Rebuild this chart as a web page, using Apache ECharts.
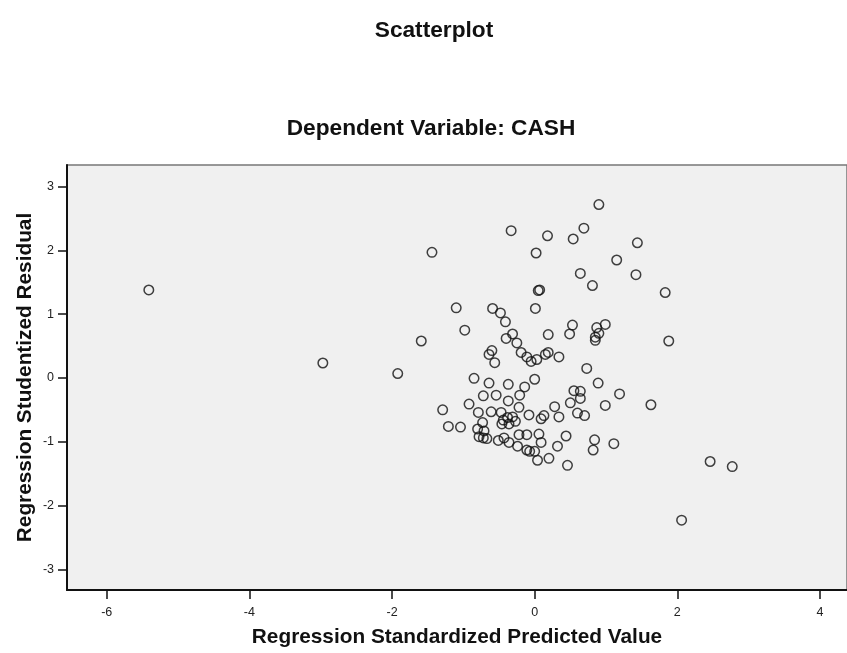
<!DOCTYPE html>
<html>
<head>
<meta charset="utf-8">
<script src="https://cdn.jsdelivr.net/npm/echarts@6/dist/echarts.min.js"></script>
<style>
  html, body { margin: 0; padding: 0; background: #fff; }
  #chart { width: 847px; height: 653px; }
</style>
</head>
<body>
<div id="chart"></div>
<script>
// regression standardized predicted value (x) / studentized residual (y)
const predicted = [
  -5.41, -2.97, -1.92, -1.44, -1.59, -1.10, -0.98, -1.29, -1.21, -1.04,
  -0.92, -0.85, -0.64, -0.37, -0.14, 0.00, 0.89, -0.72, -0.54, -0.21,
  -0.37, 0.55, 0.64, 0.64, 0.50, 1.19, 0.99, 1.63, -0.79, -0.61,
  -0.47, -0.22, -0.08, 0.28, 0.34, 0.09, 0.13, 0.60, 0.70, -0.44,
  -0.38, -0.31, -0.46, -0.36, -0.27, -0.73, -0.80, -0.71, -0.78, -0.72,
  -0.67, -0.51, -0.43, -0.36, -0.22, -0.11, 0.06, 0.09, -0.24, -0.11,
  -0.07, 0.00, 0.04, 0.20, 0.32, 0.44, 0.46, 0.84, 0.82, 1.11,
  2.46, 2.77, 2.06,
  0.90, -0.33, 0.18, 0.69, 0.54, 0.02, 1.15, 1.44, 1.42, 0.64,
  0.81, 1.83, 0.05, 0.07, -0.59, -0.48, 0.01, -0.41, 0.53, 0.49,
  0.87, 0.99, 0.90, 0.85, 0.85, 1.88, -0.31, -0.40, -0.25, 0.19,
  -0.60, -0.64, -0.56, -0.19, -0.11, -0.05, 0.03, 0.15, 0.19, 0.34,
  0.73
]
const residual = [
  1.38, 0.235, 0.07, 1.97, 0.58, 1.10, 0.75, -0.50, -0.76, -0.77,
  -0.41, -0.005, -0.08, -0.10, -0.14, -0.02, -0.08, -0.28, -0.27, -0.27,
  -0.36, -0.20, -0.21, -0.32, -0.39, -0.25, -0.43, -0.42, -0.54, -0.53,
  -0.54, -0.46, -0.58, -0.45, -0.61, -0.64, -0.59, -0.55, -0.59, -0.66,
  -0.62, -0.61, -0.72, -0.72, -0.68, -0.70, -0.80, -0.83, -0.92, -0.94,
  -0.95, -0.98, -0.94, -1.01, -0.89, -0.89, -0.88, -1.01, -1.07, -1.13,
  -1.15, -1.15, -1.29, -1.26, -1.07, -0.91, -1.37, -0.97, -1.13, -1.03,
  -1.31, -1.39, -2.23,
  2.72, 2.31, 2.23, 2.35, 2.18, 1.96, 1.85, 2.12, 1.62, 1.64,
  1.45, 1.34, 1.37, 1.38, 1.09, 1.02, 1.09, 0.88, 0.83, 0.69,
  0.79, 0.84, 0.70, 0.64, 0.59, 0.58, 0.69, 0.62, 0.55, 0.68,
  0.43, 0.37, 0.24, 0.40, 0.33, 0.26, 0.29, 0.37, 0.40, 0.33,
  0.15
]
const xTicks = [-6, -4, -2, 0, 2, 4]
const yTicks = [-3, -2, -1, 0, 1, 2, 3]

const chart = echarts.init(document.getElementById('chart'))
const fontFamily = 'Liberation Sans, Arial, sans-serif'

chart.setOption({
  animation: false,
  textStyle: { fontFamily },
  title: [
    {
      text: 'Scatterplot',
      left: 434, top: 19, padding: 0, textAlign: 'center',
      textStyle: { fontSize: 22.7, fontWeight: 'bold', color: '#111', fontFamily }
    },
    {
      text: 'Dependent Variable: CASH',
      left: 431, top: 117, padding: 0, textAlign: 'center',
      textStyle: { fontSize: 22.7, fontWeight: 'bold', color: '#111', fontFamily }
    }
  ],
  grid: {
    left: 67, top: 165, right: 0, bottom: 63,
    show: true, backgroundColor: '#f0f0f0',
    borderColor: '#777', borderWidth: 1.5
  },
  xAxis: {
    type: 'value',
    min: -6.557, max: 4.379,
    name: 'Regression Standardized Predicted Value',
    nameLocation: 'middle', nameGap: 37,
    nameTextStyle: { fontSize: 20.8, fontWeight: 'bold', color: '#111', fontFamily },
    axisLine: { onZero: false, lineStyle: { color: '#111', width: 2 } },
    axisTick: { length: 9, customValues: xTicks, lineStyle: { color: '#111', width: 1.5 } },
    axisLabel: { customValues: xTicks, fontSize: 12.5, color: '#222', margin: 16 },
    splitLine: { show: false }
  },
  yAxis: {
    type: 'value',
    min: -3.325, max: 3.34,
    name: 'Regression Studentized Residual',
    nameLocation: 'middle', nameGap: 31, nameMoveOverlap: false,
    nameTextStyle: { fontSize: 20.8, fontWeight: 'bold', color: '#111', fontFamily },
    axisLine: { onZero: false, lineStyle: { color: '#111', width: 2 } },
    axisTick: { length: 9, customValues: yTicks, lineStyle: { color: '#111', width: 1.5 } },
    axisLabel: { customValues: yTicks, fontSize: 12.5, color: '#222', margin: 13 },
    splitLine: { show: false }
  },
  series: [{
    type: 'scatter',
    symbol: 'circle',
    symbolSize: 9.5,
    data: predicted.map((x, i) => [x, residual[i]]),
    itemStyle: { color: 'rgba(0,0,0,0)', borderColor: '#111', borderWidth: 1.5 }
  }]
})
</script>
</body>
</html>
